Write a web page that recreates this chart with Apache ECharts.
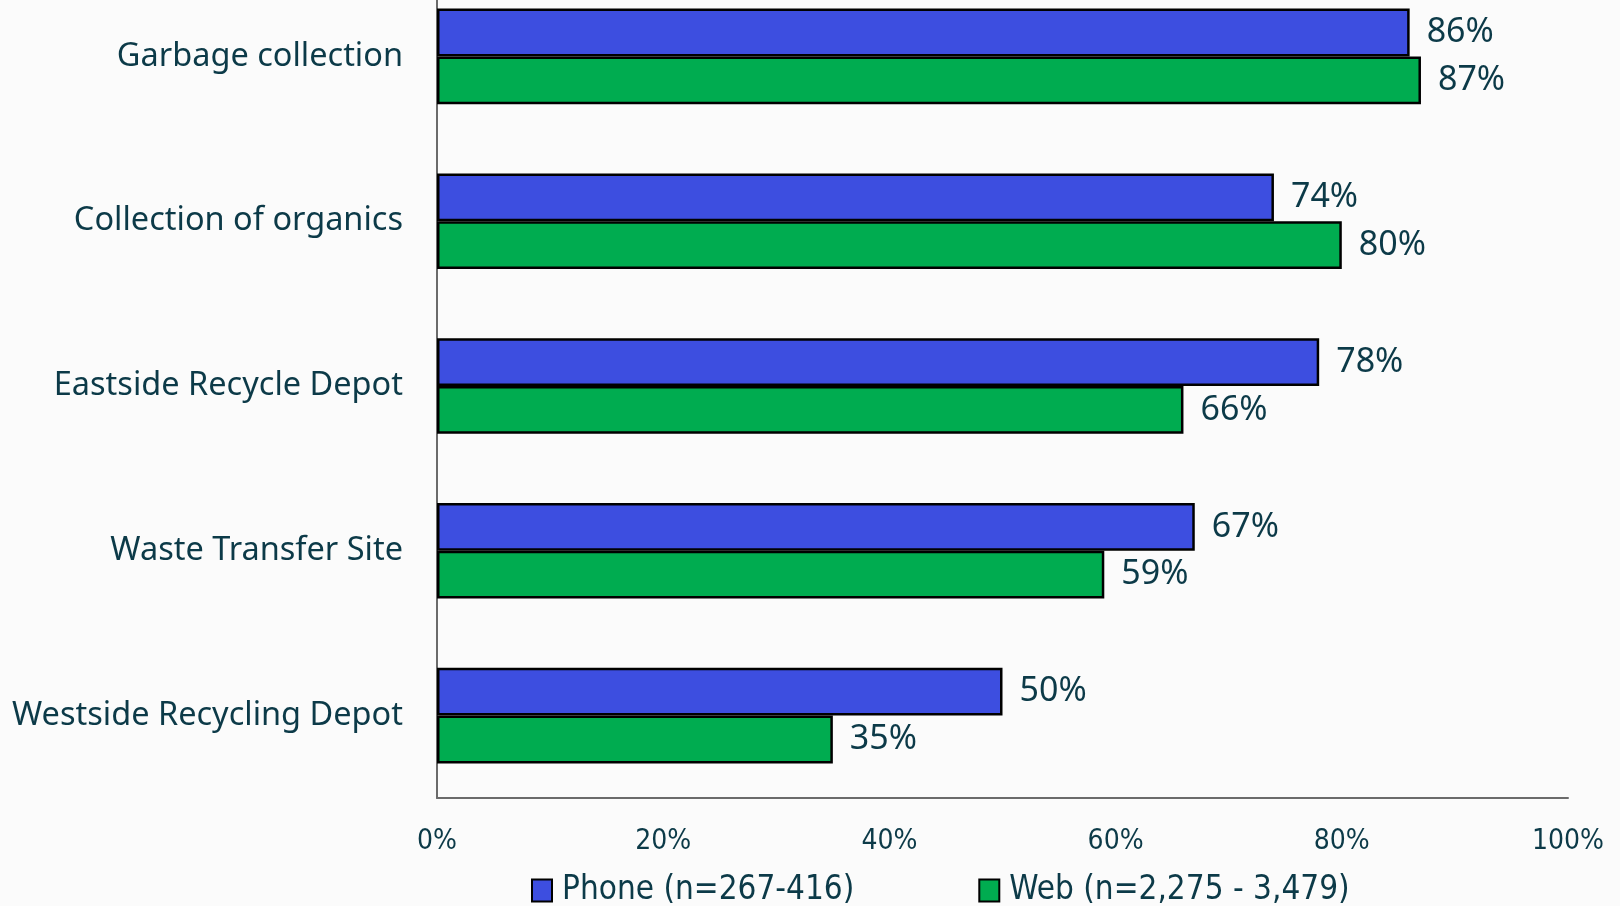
<!DOCTYPE html>
<html>
<head>
<meta charset="utf-8">
<script src="https://cdn.jsdelivr.net/npm/echarts@6/dist/echarts.min.js"></script>
<style>
html,body{margin:0;padding:0;background:#fbfbfb;overflow:hidden;}
#c{position:absolute;left:0;top:-26px;width:1620px;height:932px;}
</style>
</head>
<body>
<div id="c"></div>
<script>
const categories = ['Garbage collection','Collection of organics','Eastside Recycle Depot','Waste Transfer Site','Westside Recycling Depot'];
const phoneValues = [86, 74, 78, 67, 50];
const webValues = [87, 80, 66, 59, 35];
const seriesNames = ['Phone (n=267-416)', 'Web (n=2,275 - 3,479)'];
const xTicks = [0, 20, 40, 60, 80, 100];

const textColor = '#0c3a48';
const chart = echarts.init(document.getElementById('c'), null, {renderer:'canvas'});
const labelCfg = {
  show: true, position: 'right', distance: 17,
  formatter: p => p.value + '%',
  color: textColor, fontFamily: 'Noto Sans', fontSize: 34,
  padding: [8, 0, 0, 0]
};
chart.setOption({
  backgroundColor: '#fbfbfb',
  animation: false,
  grid: {left: 437, right: 52, top: 0, bottom: 108, containLabel: false},
  legend: {
    data: seriesNames,
    left: 526, top: 895,
    itemWidth: 20, itemHeight: 22, itemGap: 124,
    icon: 'rect',
    textStyle: {color: textColor, fontFamily: 'DejaVu Sans Condensed', fontSize: 33, padding: [0,0,0,5]}
  },
  xAxis: {
    type: 'value', min: 0, max: 100, interval: 20,
    axisLine: {show: true, lineStyle: {color: '#6b6b6b', width: 2}},
    axisTick: {show: false},
    splitLine: {show: false},
    axisLabel: {
      margin: 30, color: textColor, fontFamily: 'DejaVu Sans Condensed', fontSize: 28,
      formatter: v => xTicks.includes(v) ? v + '%' : ''
    }
  },
  yAxis: {
    type: 'category', data: categories, inverse: true,
    axisLine: {show: true, lineStyle: {color: '#6b6b6b', width: 2}},
    axisTick: {show: false},
    axisLabel: {margin: 34, color: textColor, fontFamily: 'Noto Sans', fontSize: 32.5, padding: [6, 0, 0, 0]}
  },
  series: [
    {
      name: seriesNames[0], type: 'bar', data: phoneValues,
      barGap: '0%', barCategoryGap: '42%',
      itemStyle: {color: '#3d4ee0', borderColor: '#000', borderWidth: 2.5},
      label: labelCfg
    },
    {
      name: seriesNames[1], type: 'bar', data: webValues,
      barGap: '0%', barCategoryGap: '42%',
      itemStyle: {color: '#00ac50', borderColor: '#000', borderWidth: 2.5},
      label: labelCfg
    }
  ]
});
</script>
</body>
</html>
